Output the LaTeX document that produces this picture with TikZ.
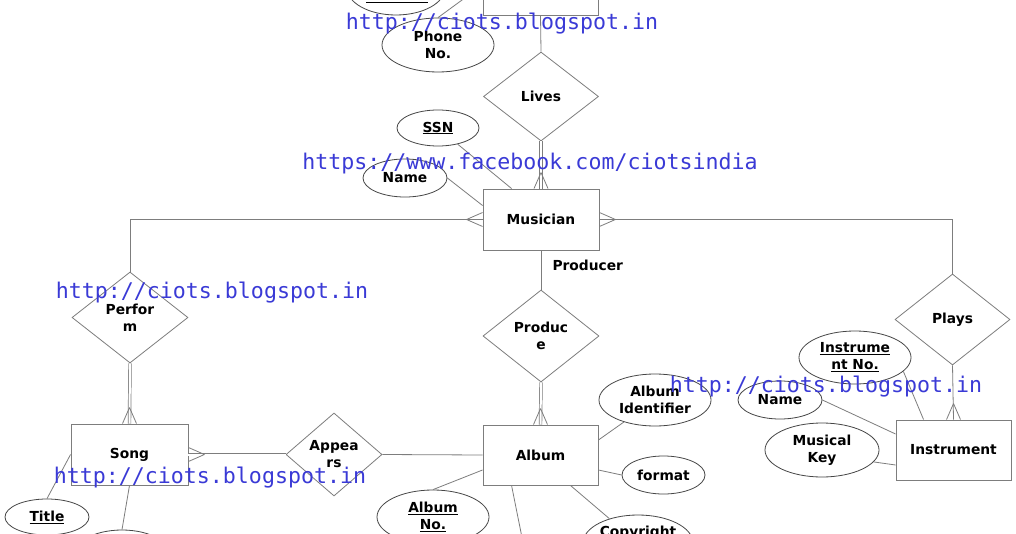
\documentclass[tikz,border=0pt]{standalone}
\usepackage{fontspec}
\setmainfont{DejaVu Sans}
\newfontfamily\wmfont{DejaVu Sans Mono}
\usetikzlibrary{shapes.geometric,calc}
\definecolor{lc}{RGB}{125,125,125}
\definecolor{ec}{RGB}{70,70,70}
\definecolor{wmc}{RGB}{58,58,214}
\tikzset{
 lbl/.style={font=\fontsize{13.8}{17}\selectfont\bfseries, align=center, text=black},
 ent/.style={lbl, rectangle, draw=lc, line width=0.9pt, minimum width=116pt, minimum height=61pt, inner sep=0pt},
 rel/.style={lbl, diamond, draw=lc, line width=0.8pt, inner sep=0pt},
 attr/.style={lbl, ellipse, draw=ec, line width=0.8pt, inner sep=0pt},
 conn/.style={draw=lc, line width=0.8pt},
 dbl/.style={draw=lc, line width=0.7pt, double=white, double distance=2pt},
 wm/.style={font=\wmfont\fontsize{21.6}{24}\selectfont, text=wmc, inner sep=0pt},
}
\newcommand{\crowfoot}[3]{\draw[conn] ($(#1)+(#2*16,#3*16)$) -- ($(#1)+(#3*7,#2*7)$) ($(#1)+(#2*16,#3*16)$) -- ($(#1)+(#3*-7,#2*-7)$);}
\begin{document}
\begin{tikzpicture}[x=1pt,y=-1pt]
\fill[white] (0,0) rectangle (1016,534);
\useasboundingbox (0,0) rectangle (1016,534);
\clip (0,0) rectangle (1016,534);

% nodes
\node[ent, minimum width=115pt, minimum height=60pt] (top) at (540.5,-15) {};
\node[attr, minimum width=98pt, minimum height=54pt] (topattr) at (396,-12) {};
\draw[black, line width=0.8pt] (366,2) -- (428,2);
\node[attr, minimum width=112pt, minimum height=54pt] (phone) at (438,45) {Phone\\No.};
\node[rel, minimum width=115pt, minimum height=89pt] (lives) at (541,96.5) {Lives};
\node[attr, minimum width=82pt, minimum height=36pt] (ssn) at (438,128) {\underline{SSN}};
\node[attr, minimum width=84pt, minimum height=38pt] (name) at (405,178) {Name};
\node[ent] (mus) at (541,219.5) {Musician};
\node[lbl, anchor=west] (prodlbl) at (549,265.5) {Producer};
\node[rel, minimum width=116pt, minimum height=91pt] (perform) at (130,317.5) {Perfor\\m};
\node[rel, minimum width=116pt, minimum height=92pt] (produce) at (541,336) {Produc\\e};
\node[rel, minimum width=115pt, minimum height=91pt] (plays) at (952.5,319.5) {Plays};
\node[ent, minimum width=117pt] (song) at (129.5,454.5) {Song};
\node[rel, minimum width=96pt, minimum height=83pt] (appears) at (334,454.5) {Appea\\rs};
\node[ent, minimum width=115pt, minimum height=60pt] (album) at (540.5,455) {Album};
\node[ent, minimum width=115pt, minimum height=60pt] (inst) at (953.5,450) {Instrument};
\node[attr, minimum width=112pt, minimum height=52pt] (albumid) at (655,400) {Album\\Identifier};
\node[attr, minimum width=83pt, minimum height=38pt] (format) at (663.5,475) {format};
\node[attr, minimum width=110pt, minimum height=56pt] (copy) at (638,543) {};
\node[lbl] (copytxt) at (638,533) {Copyright};
\node[attr, minimum width=112pt, minimum height=54pt] (albumno) at (433,517) {\underline{Album}\\\underline{No.}};
\node[attr, minimum width=84pt, minimum height=36pt] (title) at (47,517) {\underline{Title}};
\node[attr, minimum width=100pt, minimum height=54pt] (sbot) at (122,557) {};
\coordinate (abot) at (523.5,545);
\node[attr, minimum width=112pt, minimum height=53pt] (instno) at (855,357.5) {\underline{Instrume}\\\underline{nt No.}};
\node[attr, minimum width=84pt, minimum height=38pt] (name2) at (780,400) {Name};
\node[attr, minimum width=114pt, minimum height=54pt] (muskey) at (822,450) {Musical\\Key};

% connectors
\draw[conn] (phone.north) -- (top.west);
\draw[conn] (top.south) -- (lives.north);
\draw[dbl] (lives.south) -- (mus.north);
\crowfoot{mus.north}{0}{-1}
\draw[conn] (ssn) -- ($(mus.north west)+(29,0)$);
\draw[conn] (name.east) -- ($(mus.west)+(0,-14)$);
\draw[conn] (perform.north) |- (mus.west);
\crowfoot{mus.west}{-1}{0}
\draw[conn] (plays.north) |- (mus.east);
\crowfoot{mus.east}{1}{0}
\draw[conn] (mus.south) -- (produce.north);
\draw[dbl] (perform.south) -- (song.north);
\crowfoot{song.north}{0}{-1}
\draw[dbl] (appears.west) -- (song.east);
\crowfoot{song.east}{1}{0}
\draw[conn] (appears.east) -- (album.west);
\draw[dbl] (produce.south) -- (album.north);
\crowfoot{album.north}{0}{-1}
\draw[conn] (plays.south) -- (inst.north);
\crowfoot{inst.north}{0}{-1}
\draw[conn] (albumid) -- ($(album.east)+(0,-15)$);
\draw[conn] (format.west) -- ($(album.east)+(0,15)$);
\draw[conn] (copy) -- ($(album.south east)+(-28,0)$);
\draw[conn] (albumno.north) -- ($(album.west)+(0,15)$);
\draw[conn] ($(album.south west)+(29,0)$) -- (abot);
\draw[conn] (title.north) -- (song.west);
\draw[conn] (song.south) -- (sbot.north);
\draw[conn] (instno.-16) -- ($(inst.north west)+(28,0)$);
\draw[conn] (name2.east) -- ($(inst.west)+(0,-16)$);
\draw[conn] (muskey.-13) -- ($(inst.west)+(0,15)$);

% watermarks
\node[wm] (wm1) at (502,24) {http://ciots.blogspot.in};
\node[wm] (wm2) at (530,164) {https://www.facebook.com/ciotsindia};
\node[wm] (wm3) at (212,293) {http://ciots.blogspot.in};
\node[wm] (wm4) at (826,387) {http://ciots.blogspot.in};
\node[wm] (wm5) at (210,478) {http://ciots.blogspot.in};
\end{tikzpicture}
\end{document}
